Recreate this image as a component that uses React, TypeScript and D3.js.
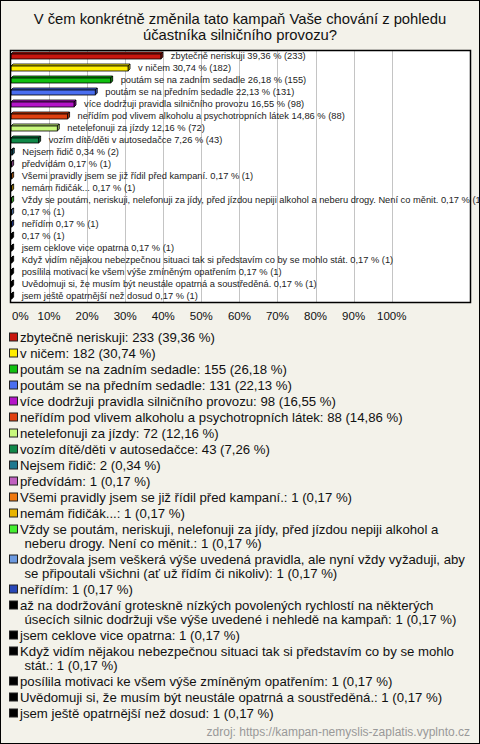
import React, { useMemo } from 'react';
import * as d3 from 'd3';

const W = 480;
const H = 744;

const TITLE_LINES = [
  'V čem konkrétně změnila tato kampaň Vaše chování z pohledu',
  'účastníka silničního provozu?',
];

const CATEGORIES = [
  'zbytečně neriskuji',
  'v ničem',
  'poutám se na zadním sedadle',
  'poutám se na předním sedadle',
  'více dodržuji pravidla silničního provozu',
  'neřídím pod vlivem alkoholu a psychotropních látek',
  'netelefonuji za jízdy',
  'vozím dítě/děti v autosedačce',
  'Nejsem řidič',
  'předvídám',
  'Všemi pravidly jsem se již řídil před kampaní.',
  'nemám řidičák...',
  'Vždy se poutám, neriskuji, nelefonuji za jídy, před jízdou nepiji alkohol a neberu drogy. Není co měnit.',
  'dodržovala jsem veškerá výše uvedená pravidla, ale nyní vždy vyžaduji, aby se připoutali všichni (ať už řídím či nikoliv)',
  'neřídím',
  'až na dodržování groteskně nízkých povolených rychlostí na některých úsecích silnic dodržuji vše výše uvedené i nehledě na kampaň',
  'jsem ceklove vice opatrna',
  'Když vidím nějakou nebezpečnou situaci tak si představím co by se mohlo stát.',
  'posílila motivaci ke všem výše zmíněným opatřením',
  'Uvědomuji si, že musím být neustále opatrná a soustředěná.',
  'jsem ještě opatrnější než dosud',
];

const COUNTS = [233, 182, 155, 131, 98, 88, 72, 43, 2, 1, 1, 1, 1, 1, 1, 1, 1, 1, 1, 1, 1];

const PERCENTS = [39.36, 30.74, 26.18, 22.13, 16.55, 14.86, 12.16, 7.26, 0.34, 0.17, 0.17, 0.17, 0.17, 0.17, 0.17, 0.17, 0.17, 0.17, 0.17, 0.17, 0.17];

const COLORS = [
  '#c8160e', '#ffee00', '#10c010', '#4a6ef0', '#b414c8', '#e04010', '#c8f87c',
  '#108848', '#1e7890', '#c060c0', '#ee7810', '#e8b400', '#44ee30', '#6c9ae0',
  '#2848b8', '#000000', '#000000', '#000000', '#000000', '#000000', '#000000',
];

const X_TICKS = [0, 10, 20, 30, 40, 50, 60, 70, 80, 90, 100];

const SOURCE = 'zdroj: https://kampan-nemyslis-zaplatis.vyplnto.cz';

const FONT = "'Liberation Sans', Arial, sans-serif";

const fmt = (v: number) => v.toFixed(2).replace('.', ',');

function wrap(text: string, fontSize: number, firstWidth: number, restWidth: number): string[] {
  const canvas = document.createElement('canvas');
  const ctx = canvas.getContext('2d')!;
  ctx.font = `${fontSize}px 'Liberation Sans'`;
  const words = text.split(' ');
  const lines: string[] = [];
  let cur = '';
  for (const w of words) {
    const test = cur ? cur + ' ' + w : w;
    const limit = lines.length === 0 ? firstWidth : restWidth;
    if (cur && ctx.measureText(test).width > limit) {
      lines.push(cur);
      cur = w;
    } else {
      cur = test;
    }
  }
  if (cur) lines.push(cur);
  return lines;
}

export default function App() {
  const plot = { left: 10.5, right: 470.5, top: 50.5, bottom: 302.5 };
  const x = d3.scaleLinear().domain([0, 100]).range([11, 391.7]);
  const y = d3
    .scaleBand<number>()
    .domain(CATEGORIES.map((_, i) => i))
    .range([50, 302]);

  const legendFont = 13.2;
  const legendItems = useMemo(() => {
    let cy = 337;
    return CATEGORIES.map((c, i) => {
      const text = `${c}: ${COUNTS[i]} (${fmt(PERCENTS[i])} %)`;
      const lines = wrap(text, legendFont, 452, 448);
      const item = { cy, lines, color: COLORS[i] };
      cy += 16 + (lines.length - 1) * 14;
      return item;
    });
  }, []);

  const depth = 2;

  return (
    <div style={{ position: 'absolute', left: 0, top: 0 }}>
      <svg width={W} height={H} style={{ display: 'block', fontFamily: FONT }}>
        <rect x={0.5} y={0.5} width={W - 1} height={H - 1} fill="#f3f2ea" stroke="#000" strokeWidth={1} />
        {TITLE_LINES.map((t, i) => (
          <text key={i} x={W / 2} y={24 + i * 15.5} textAnchor="middle" fontSize={14.8} fill="#111">
            {t}
          </text>
        ))}

        <rect x={plot.left} y={plot.top} width={plot.right - plot.left} height={plot.bottom - plot.top} fill="#fff" />
        {X_TICKS.filter((t) => t > 0).map((t) => (
          <line key={t} x1={Math.round(x(t)) + 0.5} x2={Math.round(x(t)) + 0.5} y1={plot.top} y2={plot.bottom} stroke="#c4c4c4" strokeWidth={1} />
        ))}

        {CATEGORIES.map((c, i) => {
          const cy = (y(i) as number) + y.bandwidth() / 2;
          const x0 = x(0);
          const x1 = x(PERCENTS[i]);
          const top = cy - 2;
          const bot = cy + 3;
          const label = (c.length <= 110 ? c + ' ' : '') + `${fmt(PERCENTS[i])} % (${COUNTS[i]})`;
          const shade = d3.color(COLORS[i])!.darker(0.8).toString();
          return (
            <g key={i}>
              <polygon
                points={`${x0},${top} ${x0 + depth},${top - depth} ${x1 + depth},${top - depth} ${x1},${top}`}
                fill={COLORS[i]}
                stroke="#000"
                strokeWidth={0.8}
              />
              <polygon
                points={`${x1},${top} ${x1 + depth},${top - depth} ${x1 + depth},${bot - depth} ${x1},${bot}`}
                fill={shade}
                stroke="#000"
                strokeWidth={0.8}
              />
              <rect x={x0} y={top} width={Math.max(0.5, x1 - x0)} height={bot - top} fill={COLORS[i]} stroke="#000" strokeWidth={0.8} />
              <text x={x1 + 10} y={cy + 3.3} fontSize={9.3} fill="#222">
                {label}
              </text>
            </g>
          );
        })}

        <rect x={plot.left} y={plot.top} width={plot.right - plot.left} height={plot.bottom - plot.top} fill="none" stroke="#000" strokeWidth={1.5} />

        {X_TICKS.map((t) => (
          <text key={t} x={t === 0 ? 12 : x(t)} y={319.5} textAnchor={t === 0 ? 'start' : 'middle'} fontSize={11.5} fill="#111">
            {`${t}%`}
          </text>
        ))}

        {legendItems.map((it, i) => (
          <g key={i}>
            <rect x={9.5} y={it.cy - 4} width={8} height={8} fill={it.color} stroke="#222" strokeWidth={1} />
            {it.lines.map((ln, j) => (
              <text key={j} x={j === 0 ? 20 : 24.5} y={it.cy + 4.6 + j * 14} fontSize={legendFont} fill="#111">
                {ln}
              </text>
            ))}
          </g>
        ))}

        <text x={470} y={736} textAnchor="end" fontSize={12} fill="#999">
          {SOURCE}
        </text>
      </svg>
    </div>
  );
}
